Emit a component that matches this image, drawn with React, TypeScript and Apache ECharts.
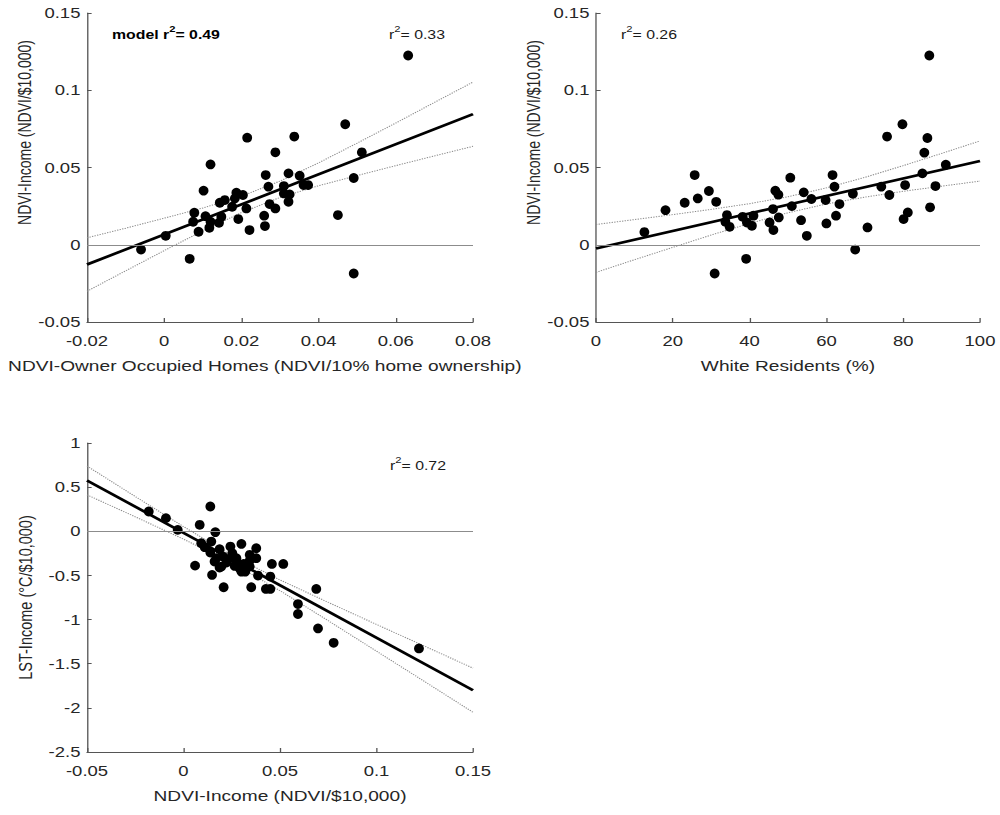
import React, { useEffect, useRef } from "react";
import * as echarts from "echarts";

// Figure is laid out in a narrower box and stretched horizontally.
const STRETCH = 1.32;
const W = 1000 / STRETCH;
const H = 815;
const px = (v: number) => v / STRETCH;

// Panel A: NDVI-Owner Occupied Homes vs NDVI-Income
const ownerPts: [number, number][] = [
  [0.0632, 0.1225], [0.0469, 0.078], [0.0512, 0.0598], [0.0491, 0.0432], [0.045, 0.0192],
  [0.0491, -0.0186], [0.0337, 0.07], [0.0215, 0.0693], [0.0288, 0.0598], [0.012, 0.052],
  [0.0263, 0.0451], [0.0322, 0.0462], [0.0351, 0.0447], [0.027, 0.0376], [0.031, 0.038],
  [0.0361, 0.0386], [0.0373, 0.0386], [0.0325, 0.0326], [0.031, 0.0332], [0.0102, 0.035],
  [0.0187, 0.0337], [0.0204, 0.0322], [0.0183, 0.03], [0.0157, 0.0289], [0.0144, 0.0272],
  [0.0176, 0.0246], [0.0213, 0.0235], [0.0273, 0.0263], [0.0288, 0.0235], [0.0322, 0.0278],
  [0.0078, 0.0207], [0.0107, 0.0185], [0.0148, 0.0181], [0.0192, 0.0166], [0.0259, 0.0188],
  [0.012, 0.0149], [0.0142, 0.0142], [0.0075, 0.0149], [0.0117, 0.011], [0.0089, 0.0084],
  [0.0221, 0.0095], [0.0261, 0.0121], [0.0004, 0.0058], [-0.006, -0.0031], [0.0066, -0.0091],
];
const ownerFitX = [-0.02, 0.08];
const ownerFitY = [-0.0128, 0.0845];
const ownerBandX = [-0.02, -0.01, 0, 0.01, 0.02, 0.03, 0.04, 0.05, 0.06, 0.07, 0.08];
const ownerBandUp = [0.0045, 0.0107, 0.0172, 0.0238, 0.0314, 0.0412, 0.053, 0.0658, 0.0788, 0.0921, 0.1053];
const ownerBandLo = [-0.0301, -0.0169, -0.0038, 0.009, 0.0208, 0.0306, 0.0382, 0.0448, 0.0512, 0.0575, 0.0637];

// Panel B: White Residents (%) vs NDVI-Income
const whitePts: [number, number][] = [
  [86.8, 0.1225], [79.8, 0.078], [75.8, 0.07], [86.3, 0.0691], [85.5, 0.0596],
  [91.1, 0.0518], [85.0, 0.0462], [88.4, 0.038], [74.3, 0.0376], [80.5, 0.0386],
  [76.4, 0.0322], [87.0, 0.0242], [81.2, 0.0209], [80.1, 0.0166], [70.7, 0.0112],
  [67.5, -0.0031], [66.9, 0.033], [61.6, 0.0451], [62.1, 0.0376], [63.4, 0.0263],
  [59.8, 0.0289], [62.5, 0.0188], [60.0, 0.0138], [56.1, 0.0296], [54.1, 0.0339],
  [53.4, 0.0159], [54.9, 0.0058], [51.0, 0.025], [50.6, 0.0434], [46.7, 0.035],
  [47.5, 0.0324], [46.1, 0.0231], [47.6, 0.0177], [45.2, 0.0144], [46.2, 0.0095],
  [41.0, 0.0188], [38.2, 0.0181], [39.3, 0.0144], [40.6, 0.0123], [39.1, -0.0091],
  [34.1, 0.0192], [33.7, 0.0149], [34.8, 0.0116], [31.3, 0.0278], [29.4, 0.0348],
  [26.5, 0.03], [25.7, 0.0451], [23.1, 0.0272], [18.1, 0.0224], [12.6, 0.0082],
  [30.9, -0.0186],
];
const whiteFitX = [0, 100];
const whiteFitY = [-0.0024, 0.0542];
const whiteBandX = [0, 10, 20, 30, 40, 50, 60, 70, 80, 90, 100];
const whiteBandUp = [0.0131, 0.0163, 0.0195, 0.0229, 0.0266, 0.0311, 0.0368, 0.0436, 0.0512, 0.0591, 0.0672];
const whiteBandLo = [-0.0179, -0.0097, -0.0017, 0.0063, 0.0138, 0.0207, 0.0264, 0.0308, 0.0346, 0.0379, 0.0412];

// Panel C: NDVI-Income vs LST-Income
const lstPts: [number, number][] = [
  [-0.018, 0.224], [-0.0091, 0.149], [-0.003, 0.016], [0.0139, 0.281], [0.0084, 0.073],
  [0.0165, -0.01], [0.006, -0.389], [0.0148, -0.494], [0.0208, -0.634], [0.03, -0.143],
  [0.0377, -0.192], [0.0243, -0.173], [0.0092, -0.135], [0.011, -0.18], [0.0144, -0.116],
  [0.0187, -0.203], [0.0139, -0.241], [0.017, -0.305], [0.0205, -0.286], [0.023, -0.317],
  [0.0274, -0.305], [0.0343, -0.267], [0.0377, -0.305], [0.0253, -0.249], [0.0161, -0.343],
  [0.0196, -0.4], [0.0222, -0.355], [0.0265, -0.392], [0.0291, -0.419], [0.0312, -0.37],
  [0.0343, -0.4], [0.032, -0.457], [0.03, -0.457], [0.0187, -0.411], [0.0386, -0.502],
  [0.0458, -0.37], [0.0517, -0.37], [0.045, -0.513], [0.0351, -0.634], [0.0427, -0.653],
  [0.045, -0.653], [0.0688, -0.653], [0.0593, -0.824], [0.0593, -0.937], [0.0697, -1.1],
  [0.0778, -1.263], [0.122, -1.327], [0.0343, -0.332], [0.0274, -0.343],
];
const lstFitX = [-0.05, 0.15];
const lstFitY = [0.576, -1.8];
const lstBandX = [-0.05, -0.025, 0, 0.025, 0.05, 0.075, 0.1, 0.125, 0.15];
const lstBandUp = [0.739, 0.394, 0.053, -0.272, -0.551, -0.805, -1.055, -1.302, -1.55];
const lstBandLo = [0.413, 0.164, -0.089, -0.358, -0.673, -1.013, -1.358, -1.703, -2.05];

// Axis ranges and labels
const xRanges = [
  { min: -0.02, max: 0.08, interval: 0.02, name: "NDVI-Owner Occupied Homes (NDVI/10% home ownership)" },
  { min: 0, max: 100, interval: 20, name: "White Residents (%)" },
  { min: -0.05, max: 0.15, interval: 0.05, name: "NDVI-Income (NDVI/$10,000)" },
];
const yRanges = [
  { min: -0.05, max: 0.15, interval: 0.05, name: "NDVI-Income (NDVI/$10,000)" },
  { min: -0.05, max: 0.15, interval: 0.05, name: "NDVI-Income (NDVI/$10,000)" },
  { min: -2.5, max: 1, interval: 0.5, name: "LST-Income (°C/$10,000)" },
];
const rSquared = ["0.33", "0.26", "0.72"];
const modelRSquared = "0.49";

const FONT = "'Liberation Sans', Arial, Helvetica, sans-serif";
const AXIS_COLOR = "#555555";
const TEXT_COLOR = "#262626";

const zip = (xs: number[], ys: number[]) => xs.map((x, i) => [x, ys[i]]);

function buildOption(): echarts.EChartsOption {
  const grids = [
    { left: px(87), top: 13, width: px(473) - px(87), height: 309 },
    { left: px(596), top: 13, width: px(980) - px(596), height: 309 },
    { left: px(87), top: 443, width: px(473) - px(87), height: 309 },
  ];

  const xAxes = xRanges.map((r, i) => ({
    type: "value" as const,
    gridIndex: i,
    min: r.min,
    max: r.max,
    interval: r.interval,
    name: r.name,
    nameLocation: "middle" as const,
    nameGap: 37,
    nameTextStyle: {
      fontFamily: FONT,
      fontSize: 14.5,
      color: TEXT_COLOR,
      padding: i === 0 ? [0, 23, 0, 0] : 0,
    },
    axisLine: { show: true, onZero: false, lineStyle: { color: AXIS_COLOR, width: 1 } },
    axisTick: { show: true, inside: true, length: 4, lineStyle: { color: AXIS_COLOR } },
    splitLine: { show: false },
    axisLabel: { fontFamily: FONT, fontSize: 14, color: TEXT_COLOR, margin: 12 },
  }));

  const yAxes = yRanges.map((r, i) => ({
    type: "value" as const,
    gridIndex: i,
    min: r.min,
    max: r.max,
    interval: r.interval,
    name: r.name,
    nameLocation: "middle" as const,
    nameGap: 39,
    nameTextStyle: {
      fontFamily: FONT,
      fontSize: i < 2 ? 14 : 14.5,
      color: TEXT_COLOR,
      padding: i < 2 ? [0, 0, 0, 70] : 0,
    },
    axisLine: { show: true, onZero: false, lineStyle: { color: AXIS_COLOR, width: 1 } },
    axisTick: { show: true, inside: true, length: 3.5, lineStyle: { color: AXIS_COLOR } },
    splitLine: { show: false },
    axisLabel: { fontFamily: FONT, fontSize: 14, color: TEXT_COLOR, margin: 5 },
  }));

  const panels = [
    { pts: ownerPts, fx: ownerFitX, fy: ownerFitY, bx: ownerBandX, bu: ownerBandUp, bl: ownerBandLo },
    { pts: whitePts, fx: whiteFitX, fy: whiteFitY, bx: whiteBandX, bu: whiteBandUp, bl: whiteBandLo },
    { pts: lstPts, fx: lstFitX, fy: lstFitY, bx: lstBandX, bu: lstBandUp, bl: lstBandLo },
  ];

  const series: any[] = [];
  panels.forEach((p, i) => {
    const bandStyle = { color: "#8a8a8a", width: 1, type: "dotted" as const };
    series.push({
      type: "line",
      xAxisIndex: i,
      yAxisIndex: i,
      data: zip(p.bx, p.bu),
      showSymbol: false,
      symbol: "none",
      lineStyle: bandStyle,
      silent: true,
      z: 2,
      markLine: {
        silent: true,
        symbol: ["none", "none"],
        label: { show: false },
        lineStyle: { color: "#8c8c8c", width: 1, type: "solid" },
        data: [{ yAxis: 0 }],
      },
    });
    series.push({
      type: "line",
      xAxisIndex: i,
      yAxisIndex: i,
      data: zip(p.bx, p.bl),
      showSymbol: false,
      symbol: "none",
      lineStyle: bandStyle,
      silent: true,
      z: 2,
    });
    series.push({
      type: "line",
      xAxisIndex: i,
      yAxisIndex: i,
      data: zip(p.fx, p.fy),
      showSymbol: false,
      symbol: "none",
      lineStyle: { color: "#000", width: 2.6 },
      silent: true,
      z: 3,
    });
    series.push({
      type: "scatter",
      xAxisIndex: i,
      yAxisIndex: i,
      data: p.pts,
      symbol: "circle",
      symbolSize: [9.8 / STRETCH, 9.8],
      itemStyle: { color: "#000", opacity: 1 },
      z: 4,
    });
  });

  const rich = {
    n: { fontFamily: FONT, fontSize: 12, lineHeight: 16, verticalAlign: "bottom", fill: "#1a1a1a" },
    s: { fontFamily: FONT, fontSize: 8.5, lineHeight: 16, verticalAlign: "top", fill: "#1a1a1a" },
    b: { fontFamily: FONT, fontSize: 12, fontWeight: "bold", lineHeight: 16, verticalAlign: "bottom", fill: "#000" },
    bs: { fontFamily: FONT, fontSize: 8.5, fontWeight: "bold", lineHeight: 16, verticalAlign: "top", fill: "#000" },
  };
  const rLabel = (v: string) => `{n|r}{s|2}{n|= ${v}}`;

  const graphic: any[] = [
    { type: "text", x: px(112), y: 25, style: { text: `{b|model r}{bs|2}{b|= ${modelRSquared}}`, rich } },
    { type: "text", x: px(389), y: 25, style: { text: rLabel(rSquared[0]), rich } },
    { type: "text", x: px(621), y: 25, style: { text: rLabel(rSquared[1]), rich } },
    { type: "text", x: px(390), y: 456, style: { text: rLabel(rSquared[2]), rich } },
  ];

  return {
    animation: false,
    backgroundColor: "#ffffff",
    grid: grids,
    xAxis: xAxes,
    yAxis: yAxes,
    series,
    graphic,
  };
}

export default function App() {
  const ref = useRef<HTMLDivElement>(null);
  useEffect(() => {
    if (!ref.current) return;
    const chart = echarts.init(ref.current, undefined, { renderer: "svg" });
    chart.setOption(buildOption());
    return () => chart.dispose();
  }, []);
  return (
    <div
      ref={ref}
      style={{
        position: "absolute",
        left: 0,
        top: 0,
        width: W,
        height: H,
        transform: `scaleX(${STRETCH})`,
        transformOrigin: "0 0",
        background: "#fff",
      }}
    />
  );
}
